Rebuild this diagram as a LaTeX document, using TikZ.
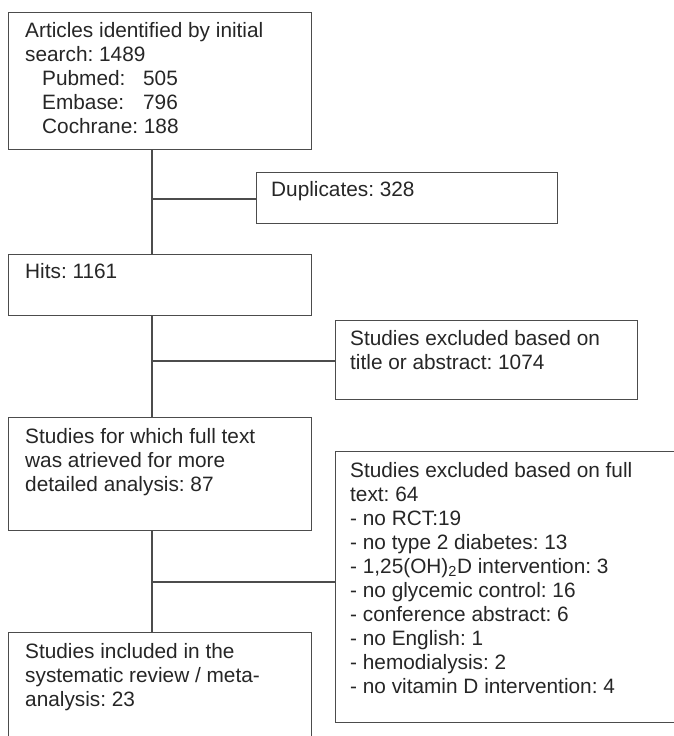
\documentclass[tikz,border=0pt]{standalone}
\usepackage{fontspec}
\setmainfont{Liberation Sans}
\frenchspacing
\newcommand\firststrut{\rule{0pt}{15pt}}
\begin{document}
\begin{tikzpicture}[x=1pt,y=-1pt,
  box/.style={draw=black!70, line width=1.3pt, rectangle, inner sep=0pt, anchor=north west},
  txt/.style={anchor=north west, inner sep=0pt, align=left, text=black!85, font=\fontsize{20.8}{24}\selectfont},
  conn/.style={draw=black!70, line width=1.3pt}]
\useasboundingbox (0,0) rectangle (674,736);
\clip (0,0) rectangle (674,736);
\fill[white] (0,0) rectangle (674,736);
% boxes
\node[box, minimum width=303pt, minimum height=137pt] (art) at (8,12) {};
\node[box, minimum width=301pt, minimum height=51pt] (dup) at (256,172) {};
\node[box, minimum width=303pt, minimum height=61pt] (hits) at (8,254) {};
\node[box, minimum width=302pt, minimum height=79pt] (excl) at (335,320) {};
\node[box, minimum width=303pt, minimum height=113pt] (full) at (8,417) {};
\node[box, minimum width=360pt, minimum height=271pt] (exft) at (335,451) {};
\node[box, minimum width=303pt, minimum height=130pt] (incl) at (8,632) {};
% texts
\node[txt] (artt) at ([shift={(17,10)}]art.north west) {\firststrut Articles identified by initial\\search: 1489\\\hspace*{17pt}\makebox[101pt][l]{Pubmed:}505\\\hspace*{17pt}\makebox[101pt][l]{Embase:}796\\\hspace*{17pt}Cochrane: 188};
\node[txt] (dupt) at ([shift={(15,9)}]dup.north west) {\firststrut Duplicates: 328};
\node[txt] (hitst) at ([shift={(17,9)}]hits.north west) {\firststrut Hits: 1161};
\node[txt] (exclt) at ([shift={(15,10)}]excl.north west) {\firststrut Studies excluded based on\\title or abstract: 1074};
\node[txt] (fullt) at ([shift={(17,11)}]full.north west) {\firststrut Studies for which full text\\was atrieved for more\\detailed analysis: 87};
\node[txt] (exftt) at ([shift={(15,11)}]exft.north west) {\firststrut Studies excluded based on full\\text: 64\\- no RCT:19\\- no type 2 diabetes: 13\\- 1,25(OH)\textsubscript{2}D intervention: 3\\- no glycemic control: 16\\- conference abstract: 6\\- no English: 1\\- hemodialysis: 2\\- no vitamin D intervention: 4};
\node[txt] (inclt) at ([shift={(17,11)}]incl.north west) {\firststrut Studies included in the\\systematic review / meta-\\analysis: 23};
% connectors
\coordinate (j1) at (152,199);
\coordinate (j2) at (152,361);
\coordinate (j3) at (152,582);
\draw[conn] (art.south -| j1) -- (hits.north -| j1);
\draw[conn] (j1) -- (j1 -| dup.west);
\draw[conn] (hits.south -| j2) -- (full.north -| j2);
\draw[conn] (j2) -- (j2 -| excl.west);
\draw[conn] (full.south -| j3) -- (incl.north -| j3);
\draw[conn] (j3) -- (j3 -| exft.west);
\end{tikzpicture}
\end{document}
